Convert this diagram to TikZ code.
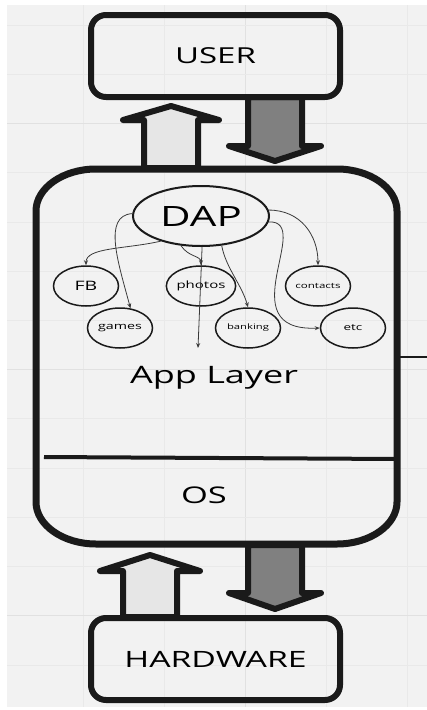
\documentclass[tikz,border=0pt]{standalone}
\usepackage{fontspec}
\setmainfont{Open Sans}
\usepackage{graphicx}
\usetikzlibrary{shapes.geometric,arrows.meta}
\definecolor{bggray}{HTML}{F2F2F2}
\definecolor{gridminor}{HTML}{E9E9E9}
\definecolor{gridmajor}{HTML}{E1E1E1}
\definecolor{lightfill}{HTML}{E6E6E6}
\definecolor{darkfill}{HTML}{808080}
\definecolor{ink}{HTML}{1A1A1A}
\definecolor{wire}{HTML}{3A3A3A}
\newcommand{\stxt}[2]{\scalebox{1.5}[1]{\fontsize{#1}{#1}\selectfont #2}}
\begin{document}
\begin{tikzpicture}[x=1pt,y=-1pt,
  termbox/.style={draw=ink,line width=6pt,rounded corners=15pt,minimum width=249pt,minimum height=82pt,inner sep=0pt},
  blockarrow/.style={draw=ink,line width=6pt,line join=round},
  bigellipse/.style={ellipse,draw=ink,line width=2pt,minimum width=136pt,minimum height=60pt,inner sep=0pt},
  appellipse/.style={ellipse,draw=ink,line width=1.5pt,minimum width=65pt,minimum height=40pt,inner sep=0pt},
  wirearrow/.style={draw=wire,line width=0.8pt,-{Stealth[length=5pt,width=4pt]}},
  gridline/.style={draw=gridminor,line width=0.7pt},
  gridline2/.style={draw=gridmajor,line width=0.9pt}]
\useasboundingbox (0,0) rectangle (427,710);
\fill[white] (0,0) rectangle (427,710);
\fill[bggray] (7,5) rectangle (427,707);
\foreach \x in {83,164,326,407} \draw[gridline] (\x,5) -- (\x,707);
\draw[gridline2] (245,5) -- (245,707);
\foreach \y in {25,74,172,222,271,320,418,468,517,566,665} \draw[gridline] (7,\y) -- (427,\y);
\foreach \y in {123,369,615} \draw[gridline2] (7,\y) -- (427,\y);

% block arrows
\draw[blockarrow,fill=lightfill] (144,168) -- (144,120) -- (123,120) -- (171,106) -- (219,120) -- (198,120) -- (198,168) -- cycle;
\draw[blockarrow,fill=darkfill] (248,97) -- (248,146) -- (229,146) -- (275,161) -- (321,146) -- (302,146) -- (302,97) -- cycle;
\draw[blockarrow,fill=lightfill] (123,617) -- (123,571) -- (100,571) -- (150,555) -- (200,571) -- (177,571) -- (177,617) -- cycle;
\draw[blockarrow,fill=darkfill] (248,545) -- (248,593) -- (229,593) -- (275,609) -- (321,593) -- (302,593) -- (302,545) -- cycle;

% terminal boxes
\node[termbox] (user) at (215.5,56) {\stxt{22}{USER}};
\node[termbox] (hw) at (215.5,659) {\stxt{22.5}{HARDWARE}};

% main device box
\draw[draw=ink,line width=7pt] (96,169) .. controls (63,169) and (36,188) .. (36,211)
  -- (36,502) .. controls (36,525) and (63,544) .. (96,544)
  -- (337,544) .. controls (370,544) and (397,525) .. (397,502)
  -- (397,211) .. controls (397,188) and (370,169) .. (337,169) -- cycle;
\draw[draw=ink,line width=4pt] (44,457) -- (397,459);
\coordinate (stubA) at (400,357);
\coordinate (stubB) at (427,357);
\draw[draw=ink,line width=1.5pt] (stubA) -- (stubB);

\node (applayer) at (214,378) {\stxt{24}{App Layer}};
\node (os) at (204,495) {\stxt{23}{OS}};

% DAP and apps
\node[bigellipse] (dap) at (201,216) {\stxt{28}{DAP}};
\node[appellipse] (fb) at (86,286) {\stxt{13}{FB}};
\node[appellipse] (games) at (120,328) {\stxt{9.5}{games}};
\node[appellipse] (photos) at (201,286) {\stxt{10}{photos}};
\node[appellipse] (banking) at (248,328) {\stxt{7.5}{banking}};
\node[appellipse] (contacts) at (318,286) {\stxt{7.7}{contacts}};
\node[appellipse] (etc) at (353,328) {\stxt{9}{etc}};
\coordinate (appin) at (198,348);

\draw[wirearrow] (dap.212) .. controls +(-35,8) and +(0,-18) .. (fb.north);
\draw[wirearrow] (dap.178) .. controls +(-30,2) and +(-12,-45) .. (games.62);
\draw[wirearrow] (dap.236) .. controls +(8,12) and +(0,-10) .. (photos.north);
\draw[wirearrow] (dap.272) -- (appin);
\draw[wirearrow] (dap.305) .. controls +(4,22) and +(-6,-22) .. (banking.north);
\draw[wirearrow] (dap.5) .. controls +(32,0) and +(0,-30) .. (contacts.north);
\draw[wirearrow] (dap.355) .. controls +(46,-2) and +(-92,4) .. (etc.west);
\end{tikzpicture}
\end{document}
